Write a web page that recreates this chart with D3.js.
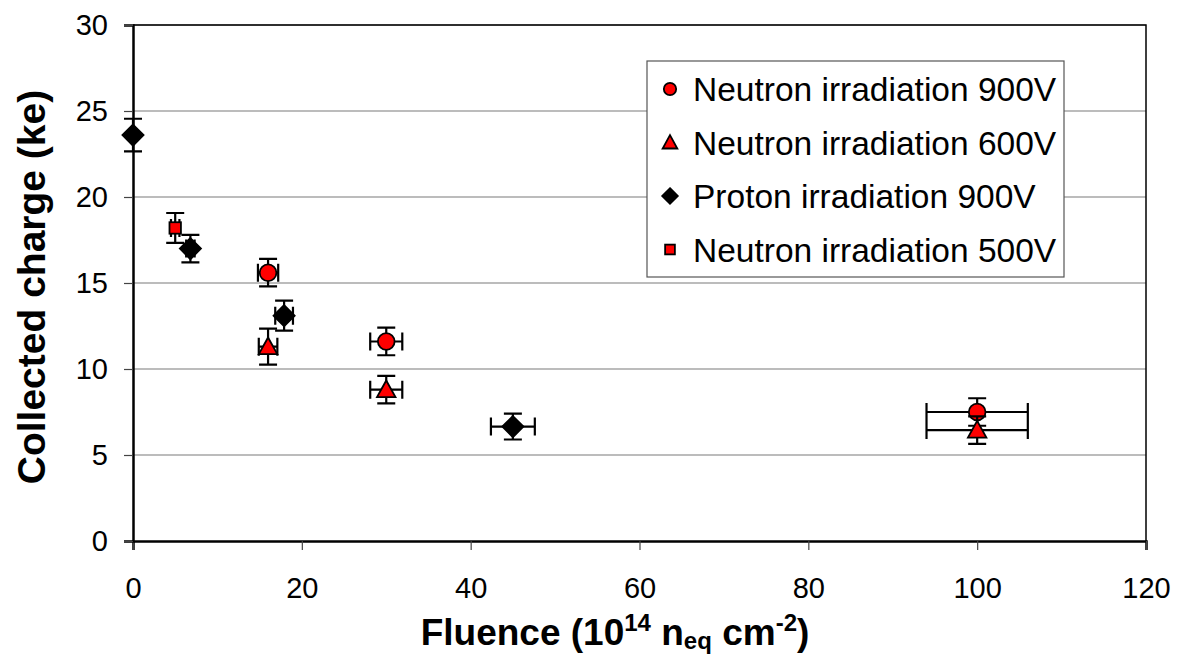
<!DOCTYPE html>
<html>
<head>
<meta charset="utf-8">
<script src="https://cdn.jsdelivr.net/npm/d3@7"></script>
<style>
  body { margin: 0; background: #fff; }
  svg { font-family: "Liberation Sans", Arial, sans-serif; }
</style>
</head>
<body>
<div id="chart"></div>
<script>
// series data
var seriesNames = ["Neutron irradiation 900V", "Neutron irradiation 600V", "Proton irradiation 900V", "Neutron irradiation 500V"];

var fluenceN900 = [16, 30, 100];
var chargeN900 = [15.6, 11.6, 7.5];
var xErrN900 = [1.2, 1.9, 6];
var yErrN900 = [0.8, 0.8, 0.8];

var fluenceN600 = [16, 30, 100];
var chargeN600 = [11.3, 8.8, 6.45];
var xErrN600 = [1.1, 1.9, 6];
var yErrN600 = [1.05, 0.8, 0.8];

var fluenceP900 = [0, 6.8, 17.9, 45];
var chargeP900 = [23.6, 17.0, 13.1, 6.65];
var xErrP900 = [0, 0.5, 1.05, 2.6];
var yErrP900 = [0.95, 0.8, 0.87, 0.75];

var fluenceN500 = [5];
var chargeN500 = [18.2];
var xErrN500 = [0.5];
var yErrN500 = [0.87];

var xTicks = [0, 20, 40, 60, 80, 100, 120];
var yTicks = [0, 5, 10, 15, 20, 25, 30];

var markerShapes = ["circle", "triangle", "diamond", "square"];
var markerFills = ["#ff0000", "#ff0000", "#000000", "#ff0000"];

function makeSeries(xs, ys, ex, ey) {
  return xs.map(function(x, i) { return {x: x, y: ys[i], ex: ex[i], ey: ey[i]}; });
}
var allSeries = [
  makeSeries(fluenceN900, chargeN900, xErrN900, yErrN900),
  makeSeries(fluenceN600, chargeN600, xErrN600, yErrN600),
  makeSeries(fluenceP900, chargeP900, xErrP900, yErrP900),
  makeSeries(fluenceN500, chargeN500, xErrN500, yErrN500)
];

var W = 1178, H = 655;
var margin = {top: 25, right: 32, bottom: 114, left: 133};
var width = W - margin.left - margin.right,
    height = H - margin.top - margin.bottom;

var xScale = d3.scaleLinear().domain([0, 120]).range([0, width]);
var yScale = d3.scaleLinear().domain([0, 30]).range([height, 0]);

var svg = d3.select("#chart").append("svg")
  .attr("width", W).attr("height", H);

var g = svg.append("g")
  .attr("transform", "translate(" + margin.left + "," + margin.top + ")");

// gridlines
g.selectAll(".grid")
  .data(yTicks.filter(function(d) { return d > 0; }))
  .enter().append("line")
  .attr("x1", 0).attr("x2", width)
  .attr("y1", function(d) { return yScale(d); })
  .attr("y2", function(d) { return yScale(d); })
  .attr("stroke", "#a6a6a6").attr("stroke-width", 1.5);

// plot frame (top / right)
g.append("path")
  .attr("d", "M0,0H" + width + "V" + height)
  .attr("fill", "none").attr("stroke", "#000").attr("stroke-width", 1.5);

// axes
var xAxis = d3.axisBottom(xScale).tickValues(xTicks).tickSize(9).tickPadding(27);
var yAxis = d3.axisLeft(yScale).tickValues(yTicks).tickSize(9).tickPadding(16);

var gx = g.append("g").attr("transform", "translate(0," + height + ")").call(xAxis);
var gy = g.append("g").call(yAxis);

[gx, gy].forEach(function(ax) {
  ax.select(".domain").attr("stroke", "#000").attr("stroke-width", 2.5);
  ax.selectAll(".tick line").attr("stroke", "#444").attr("stroke-width", 1.2);
  ax.selectAll(".tick text")
    .attr("font-size", "29px")
    .attr("font-family", "Liberation Sans, Arial, sans-serif")
    .attr("fill", "#000");
});

// marker drawing
function marker(sel, shape, fill, s) {
  if (shape === "circle") {
    sel.append("circle").attr("r", s * 0.95);
  } else if (shape === "triangle") {
    var h = s * 1.9, w = s * 2.1;
    sel.append("path").attr("d", "M0," + (-h * 0.55) + "L" + (w / 2) + "," + (h * 0.45) + "L" + (-w / 2) + "," + (h * 0.45) + "Z");
  } else if (shape === "diamond") {
    sel.append("path").attr("d", "M0," + (-s * 1.2) + "L" + (s * 1.2) + ",0L0," + (s * 1.2) + "L" + (-s * 1.2) + ",0Z");
  } else {
    sel.append("rect").attr("x", -s * 0.65).attr("y", -s * 0.65).attr("width", s * 1.3).attr("height", s * 1.3);
  }
  sel.selectAll("circle,path,rect")
    .attr("fill", fill).attr("stroke", "#000").attr("stroke-width", 1.8);
}

var cap = 9;
allSeries.forEach(function(data, si) {
  var sg = g.append("g");
  var pts = sg.selectAll(".pt").data(data).enter().append("g");

  // y error bars
  pts.append("path")
    .attr("d", function(d) {
      var x = xScale(d.x), y1 = yScale(d.y + d.ey), y2 = yScale(d.y - d.ey);
      return "M" + x + "," + y1 + "V" + y2 +
        "M" + (x - cap) + "," + y1 + "H" + (x + cap) +
        "M" + (x - cap) + "," + y2 + "H" + (x + cap);
    })
    .attr("fill", "none").attr("stroke", "#000").attr("stroke-width", 2.2);

  // x error bars
  pts.filter(function(d) { return d.ex > 0; }).append("path")
    .attr("d", function(d) {
      var y = yScale(d.y), x1 = xScale(d.x - d.ex), x2 = xScale(d.x + d.ex);
      return "M" + x1 + "," + y + "H" + x2 +
        "M" + x1 + "," + (y - cap) + "V" + (y + cap) +
        "M" + x2 + "," + (y - cap) + "V" + (y + cap);
    })
    .attr("fill", "none").attr("stroke", "#000").attr("stroke-width", 2.2);

  pts.append("g")
    .attr("transform", function(d) { return "translate(" + xScale(d.x) + "," + yScale(d.y) + ")"; })
    .each(function() { marker(d3.select(this), markerShapes[si], markerFills[si], 8.8); });
});

// legend
var lg = svg.append("g").attr("transform", "translate(647,61)");
lg.append("rect").attr("width", 417).attr("height", 216)
  .attr("fill", "#fff").attr("stroke", "#555").attr("stroke-width", 1.2);
var legendSizes = [6.5, 7, 6.5, 7.5];
seriesNames.forEach(function(name, i) {
  var row = lg.append("g").attr("transform", "translate(0," + (28 + i * 53.5) + ")");
  row.append("g").attr("transform", "translate(23,0)")
    .each(function() { marker(d3.select(this), markerShapes[i], markerFills[i], legendSizes[i]); });
  row.append("text").attr("x", 46).attr("y", 0).attr("dy", "0.36em")
    .attr("font-size", "33.5px").attr("fill", "#000").text(name);
});

// axis titles
var xt = svg.append("text")
  .attr("x", 615).attr("y", 645)
  .attr("text-anchor", "middle")
  .attr("font-weight", "bold").attr("font-size", "37px").attr("fill", "#000");
xt.append("tspan").text("Fluence (10");
xt.append("tspan").attr("font-size", "24px").attr("dy", "-14").text("14");
xt.append("tspan").attr("dy", "14").text(" n");
xt.append("tspan").attr("font-size", "24px").attr("dy", "4").text("eq");
xt.append("tspan").attr("dy", "-4").text(" cm");
xt.append("tspan").attr("font-size", "24px").attr("dy", "-14").text("-2");
xt.append("tspan").attr("dy", "14").text(")");

svg.append("text")
  .attr("transform", "translate(45,287) rotate(-90)")
  .attr("text-anchor", "middle")
  .attr("font-weight", "bold").attr("font-size", "39px").attr("fill", "#000")
  .text("Collected charge (ke)");
</script>
</body>
</html>
